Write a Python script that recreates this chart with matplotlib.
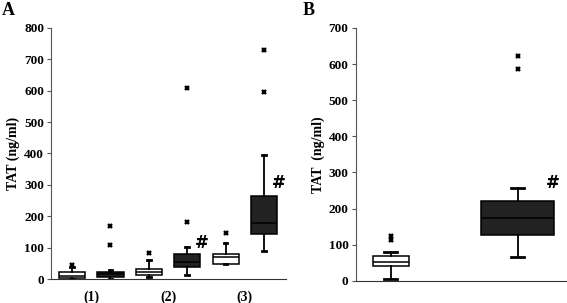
import matplotlib
matplotlib.use("Agg")
import matplotlib.pyplot as plt

plt.rcParams.update({
    "font.family": "Liberation Serif",
    "font.size": 9.5,
})

# Panel A: three pairs of groups (white = control, dark = patients)
a_groups = ["(1)", "(2)", "(3)"]
a_whislo = [0, 0, 6, 12, 49, 89]
a_q1 = [3, 6, 14, 40, 49, 145]
a_med = [10, 15, 22, 54, 70, 179]
a_q3 = [22, 22, 33, 79, 81, 264]
a_whishi = [38, 30, 60, 102, 115, 395]
a_fliers = [[46], [110, 168], [84], [182, 607], [148], [597, 730]]
a_colors = ["white", "#222222", "white", "#222222", "white", "#222222"]
a_marked = [3, 5]          # boxes with '#'
a_mark_y = [116, 306]

# Panel B: two groups
b_whislo = [5, 67]
b_q1 = [42, 126]
b_med = [51, 174]
b_q3 = [70, 222]
b_whishi = [79, 256]
b_fliers = [[113, 125], [587, 621]]
b_colors = ["white", "#222222"]
b_mark_y = 270


def stats(lo, q1, med, q3, hi, fl):
    return [dict(whislo=a, q1=b, med=c, q3=d, whishi=e, fliers=f)
            for a, b, c, d, e, f in zip(lo, q1, med, q3, hi, fl)]


def draw(ax, st, pos, widths, colors):
    bp = ax.bxp(st, positions=pos, widths=widths, patch_artist=True,
                showfliers=True, capwidths=[0.1] * len(st),
                boxprops=dict(edgecolor="black", linewidth=1.1),
                medianprops=dict(color="black", linewidth=1.1),
                whiskerprops=dict(color="black", linewidth=1.3),
                capprops=dict(color="black", linewidth=2),
                flierprops=dict(marker="x", markersize=3.2, markeredgewidth=1.7,
                                markeredgecolor="black"))
    for patch, c in zip(bp["boxes"], colors):
        patch.set_facecolor(c)
    return bp


def style(ax, top, step):
    for s in ["top", "right"]:
        ax.spines[s].set_visible(False)
    ax.spines["left"].set_color("#555555")
    ax.spines["bottom"].set_color("#333333")
    ax.set_ylim(0, top)
    ax.set_yticks(range(0, top + 1, step))
    ax.tick_params(axis="y", length=3, width=0.8, color="#555555", pad=2)
    ax.tick_params(axis="x", length=0, pad=8)
    for lab in ax.get_yticklabels() + ax.get_xticklabels():
        lab.set_fontweight("bold")


hash_font = dict(fontsize=12, fontweight="bold", family="DejaVu Sans",
                 ha="left", va="center")

fig = plt.figure(figsize=(5.67, 3.03), dpi=100)

# ---- A ----
axA = fig.add_axes([0.090, 0.079, 0.414, 0.829])
posA = list(range(6))
draw(axA, stats(a_whislo, a_q1, a_med, a_q3, a_whishi, a_fliers),
     posA, [0.68] * 6, a_colors)
axA.set_xlim(-0.55, 5.57)
axA.set_xticks([0.5, 2.5, 4.5])
axA.set_xticklabels(a_groups, fontsize=10)
style(axA, 800, 100)
axA.set_ylabel("TAT (ng/ml)", labelpad=3, fontweight="bold", fontsize=10)
for i, y in zip(a_marked, a_mark_y):
    axA.text(posA[i] + 0.2, y, "#", **hash_font)
fig.text(0.004, 0.965, "A", fontsize=13, fontweight="bold", va="center")

# ---- B ----
axB = fig.add_axes([0.627, 0.073, 0.371, 0.835])
posB = [0, 1]
draw(axB, stats(b_whislo, b_q1, b_med, b_q3, b_whishi, b_fliers),
     posB, [0.283, 0.575], b_colors)
axB.set_xlim(-0.276, 1.378)
axB.set_xticks([])
style(axB, 700, 100)
axB.set_ylabel("TAT  (ng/ml)", labelpad=3, fontweight="bold", fontsize=10)
axB.text(1.22, b_mark_y, "#", **hash_font)
fig.text(0.533, 0.965, "B", fontsize=13, fontweight="bold", va="center")

fig.savefig("out.png", dpi=100)
